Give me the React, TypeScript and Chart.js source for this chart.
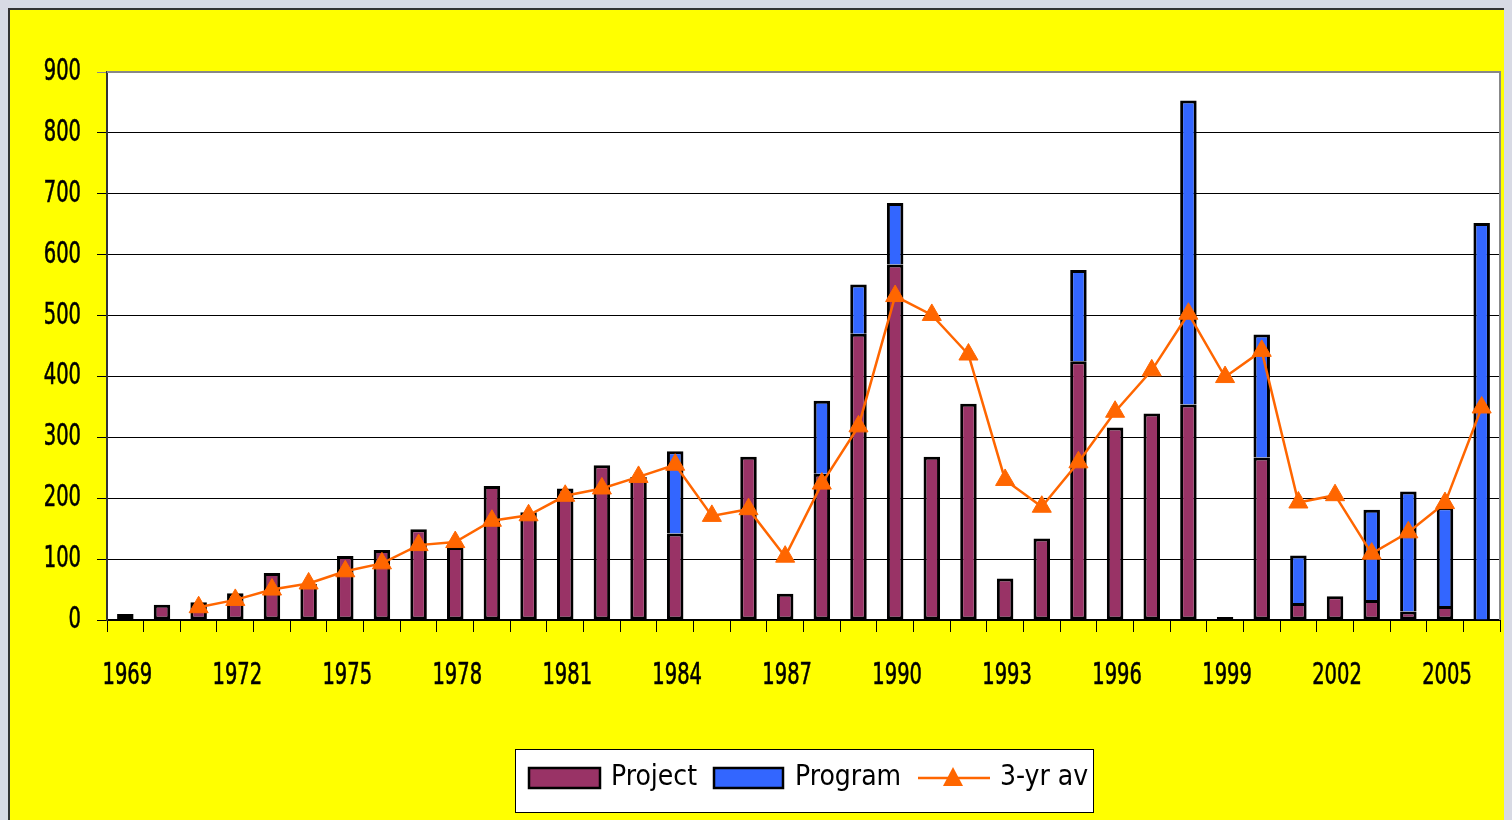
import React, { useEffect, useRef } from "react";
import { Chart, registerables } from "chart.js";
Chart.register(...registerables);

const years = [
  "1969", "1970", "1971", "1972", "1973", "1974", "1975", "1976", "1977", "1978",
  "1979", "1980", "1981", "1982", "1983", "1984", "1985", "1986", "1987", "1988",
  "1989", "1990", "1991", "1992", "1993", "1994", "1995", "1996", "1997", "1998",
  "1999", "2000", "2001", "2002", "2003", "2004", "2005", "2006",
];
const projectValues = [
  10, 25, 29, 44, 77, 59, 105, 115, 149, 120,
  220, 177, 216, 254, 235, 142, null, 268, 43, 240,
  470, 584, 268, 355, 68, 134, 425, 316, 339, 354,
  5, 267, 28, 39, 33, 14, 23, null,
];
const programValues = [
  null, null, null, null, null, null, null, null, null, null,
  null, null, null, null, null, 135, null, null, null, 120,
  81, 101, null, null, null, null, 150, null, null, 499,
  null, 202, 78, null, 148, 197, 162, 652,
];
const avgValues = [
  null, null, 21, 33, 50, 60, 80, 93, 123, 128,
  163, 172, 204, 216, 235, 255, 171, 182, 104, 224,
  318, 532, 501, 436, 230, 186, 259, 342, 410, 503,
  399, 442, 193, 205, 109, 144, 192, 349,
];
const xTickYears = ["1969", "1972", "1975", "1978", "1981", "1984", "1987", "1990", "1993", "1996", "1999", "2002", "2005"];
const yMin = 0;
const yMax = 900;
const yStep = 100;

const MAROON = "#993366";
const BLUE = "#3366FF";
const ORANGE = "#FF6600";
const FONT = '"DejaVu Sans Condensed", "DejaVu Sans", sans-serif';
const TICK_SIZE = 31;
const TICK_SCALE = 0.7;

function narrowText(ctx: any, text: string, x: number, y: number, align: string) {
  ctx.save();
  ctx.font = "500 " + TICK_SIZE + "px " + FONT;
  ctx.fillStyle = "#000000";
  ctx.strokeStyle = "#000000";
  ctx.lineWidth = 0.6;
  ctx.textBaseline = "middle";
  ctx.textAlign = align;
  ctx.translate(x, y);
  ctx.scale(TICK_SCALE, 1);
  ctx.fillText(text, 0, 0);
  ctx.strokeText(text, 0, 0);
  ctx.restore();
}

const frame = {
  id: "frame",
  beforeDraw(chart: any) {
    const { ctx, chartArea: a } = chart;
    ctx.save();
    ctx.fillStyle = "#ffffff";
    ctx.fillRect(a.left, a.top, a.right - a.left, a.bottom - a.top);
    ctx.restore();
  },
  beforeDatasetsDraw(chart: any) {
    const { ctx, chartArea: a } = chart;
    ctx.save();
    ctx.strokeStyle = "#888888";
    ctx.lineWidth = 2;
    ctx.beginPath();
    ctx.moveTo(a.left, a.top);
    ctx.lineTo(a.right, a.top);
    ctx.lineTo(a.right, a.bottom);
    ctx.stroke();
    ctx.restore();
  },
  afterDraw(chart: any) {
    const ctx = chart.ctx;
    const xs = chart.scales.x;
    const ys = chart.scales.y;
    xs.ticks.forEach((t: any, i: number) => {
      const lbl = years[i];
      if (xTickYears.includes(lbl)) {
        narrowText(ctx, lbl, xs.getPixelForTick(i) + 2, 666, "center");
      }
    });
    ys.ticks.forEach((t: any) => {
      narrowText(ctx, String(t.value), 71, ys.getPixelForValue(t.value), "right");
    });
  },
};

const legendBox = {
  id: "legendBox",
  afterDraw(chart: any) {
    const ctx = chart.ctx;
    ctx.save();
    ctx.fillStyle = "#ffffff";
    ctx.fillRect(505, 739, 578, 63);
    ctx.strokeStyle = "#000000";
    ctx.lineWidth = 1;
    ctx.strokeRect(505.5, 739.5, 578, 63);
    const cy = 768;
    ctx.lineWidth = 2.5;
    ctx.fillStyle = MAROON;
    ctx.fillRect(519, 758, 71, 20);
    ctx.strokeRect(519, 758, 71, 20);
    ctx.fillStyle = BLUE;
    ctx.fillRect(704, 758, 69, 20);
    ctx.strokeRect(704, 758, 69, 20);
    ctx.strokeStyle = ORANGE;
    ctx.lineWidth = 2.5;
    ctx.beginPath();
    ctx.moveTo(908, cy);
    ctx.lineTo(980, cy);
    ctx.stroke();
    ctx.fillStyle = ORANGE;
    ctx.beginPath();
    ctx.moveTo(943, cy - 11);
    ctx.lineTo(953, cy + 8);
    ctx.lineTo(933, cy + 8);
    ctx.closePath();
    ctx.fill();
    ctx.fillStyle = "#000000";
    ctx.font = "28px " + FONT;
    ctx.textBaseline = "middle";
    ctx.fillText("Project", 601, cy);
    ctx.fillText("Program", 785, cy);
    ctx.fillText("3-yr av", 990, cy);
    ctx.restore();
  },
};

export default function App() {
  const ref = useRef<HTMLCanvasElement>(null);
  useEffect(() => {
    document.documentElement.style.overflow = "hidden";
    document.body.style.background = "#d8dae4";
    const chart = new Chart(ref.current!, {
      data: {
        labels: years,
        datasets: [
          {
            type: "line",
            label: "3-yr av",
            data: avgValues,
            borderColor: ORANGE,
            backgroundColor: ORANGE,
            borderWidth: 2.5,
            pointStyle: "triangle",
            pointRadius: 11,
            pointBackgroundColor: ORANGE,
            pointBorderColor: ORANGE,
            pointBorderWidth: 1,
            stack: "avg",
            order: 0,
            spanGaps: false,
          } as any,
          {
            type: "bar",
            label: "Project",
            data: projectValues,
            backgroundColor: MAROON,
            borderColor: "#000000",
            borderWidth: 3,
            borderSkipped: false,
            barPercentage: 0.45,
            categoryPercentage: 1,
            stack: "bars",
            order: 1,
          } as any,
          {
            type: "bar",
            label: "Program",
            data: programValues,
            backgroundColor: BLUE,
            borderColor: "#000000",
            borderWidth: 3,
            borderSkipped: "start",
            barPercentage: 0.45,
            categoryPercentage: 1,
            stack: "bars",
            order: 1,
          } as any,
        ],
      },
      options: {
        responsive: false,
        animation: false,
        layout: { padding: { top: 62, right: 10, left: 0, bottom: 0 } },
        plugins: { legend: { display: false }, tooltip: { enabled: false } },
        scales: {
          x: {
            type: "category",
            stacked: true,
            offset: true,
            afterFit(s: any) { s.height = 200; },
            grid: {
              offset: true,
              drawOnChartArea: false,
              drawTicks: true,
              tickLength: 12,
              color: "#000000",
              lineWidth: 1,
            },
            border: { color: "#000000", width: 2 },
            ticks: {
              autoSkip: false,
              maxRotation: 0,
              padding: 26,
              color: "rgba(0,0,0,0)",
              font: { family: FONT, size: 29 },
              callback: (_v: any, i: number) => (xTickYears.includes(years[i]) ? years[i] : ""),
            },
          },
          y: {
            stacked: true,
            min: yMin,
            max: yMax,
            afterFit(s: any) { s.width = 97; },
            grid: {
              color: (c: any) => (c.tick && c.tick.value === yMax ? "#888888" : "#000000"),
              lineWidth: 1,
              tickLength: 10,
            },
            border: { color: "#333333", width: 2 },
            ticks: {
              stepSize: yStep,
              padding: 16,
              color: "rgba(0,0,0,0)",
              font: { family: FONT, size: 29 },
            },
          },
        },
      } as any,
      plugins: [frame, legendBox],
    });
    return () => chart.destroy();
  }, []);
  return (
    <div
      style={{
        width: 1504,
        height: 812,
        background: "#ffff00",
        borderTop: "2px solid #333",
        borderLeft: "2px solid #333",
        boxSizing: "border-box",
      }}
    >
      <canvas ref={ref} width={1502} height={810} style={{ display: "block" }} />
    </div>
  );
}
